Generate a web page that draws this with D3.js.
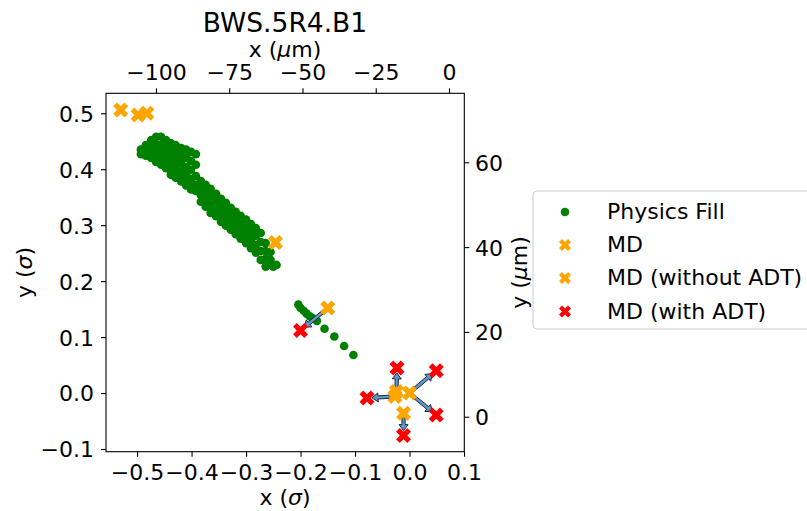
<!DOCTYPE html>
<html><head><meta charset="utf-8">
<script src="https://cdn.jsdelivr.net/npm/d3@7"></script>
<style>body{margin:0;background:#fff;} text{font-family:"DejaVu Sans",sans-serif;fill:#000;}</style>
</head><body><svg id="c" width="807" height="511"></svg>
<script>
// ---------- data ----------
const physicsX = [
-0.493,-0.493,
-0.484,-0.484,-0.484,
-0.474,-0.474,-0.474,-0.474,
-0.465,-0.465,-0.465,-0.465,-0.465,
-0.456,-0.456,-0.456,-0.456,-0.456,
-0.447,-0.447,-0.447,-0.447,-0.447,
-0.438,-0.438,-0.438,-0.438,-0.438,-0.438,
-0.429,-0.429,-0.429,-0.429,-0.429,-0.429,
-0.419,-0.419,-0.419,-0.419,-0.419,-0.419,
-0.410,-0.410,-0.410,-0.410,-0.410,-0.410,
-0.401,-0.401,-0.401,-0.401,-0.401,-0.401,
-0.392,-0.392,-0.392,-0.392,-0.392,
-0.383,-0.383,-0.383,-0.383,
-0.374,-0.374,-0.374,-0.374,
-0.365,-0.365,-0.365,-0.365,
-0.355,-0.355,-0.355,-0.355,
-0.346,-0.346,-0.346,-0.346,
-0.337,-0.337,-0.337,-0.337,
-0.328,-0.328,-0.328,-0.328,
-0.319,-0.319,-0.319,-0.319,
-0.310,-0.310,-0.310,-0.310,
-0.300,-0.300,-0.300,-0.300,
-0.291,-0.291,-0.291,-0.291,
-0.282,-0.282,-0.282,-0.282,
-0.273,-0.273,-0.273,-0.273,
-0.264,-0.264,-0.264,-0.264,
-0.255,-0.255,-0.255,
-0.250,-0.244,
-0.204,-0.200,-0.194,-0.189,-0.183,-0.178,-0.170,-0.156,-0.138,-0.120,-0.103
];
const physicsY = [
0.435,0.427,
0.443,0.433,0.424,
0.452,0.440,0.429,0.420,
0.458,0.445,0.433,0.420,0.413,
0.458,0.443,0.431,0.418,0.408,
0.452,0.440,0.426,0.413,0.402,
0.447,0.435,0.420,0.408,0.397,0.390,
0.443,0.429,0.415,0.402,0.390,0.385,
0.438,0.424,0.410,0.395,0.383,0.378,
0.435,0.420,0.404,0.390,0.376,0.371,
0.431,0.415,0.399,0.383,0.368,0.364,
0.427,0.408,0.388,0.372,0.361,
0.379,0.367,0.354,0.342,
0.372,0.358,0.345,0.333,
0.365,0.351,0.336,0.322,
0.356,0.342,0.327,0.316,
0.347,0.333,0.320,0.306,
0.340,0.326,0.313,0.299,
0.331,0.318,0.306,0.292,
0.324,0.310,0.297,0.284,
0.317,0.302,0.290,0.276,
0.310,0.295,0.281,0.268,
0.302,0.288,0.274,0.259,
0.295,0.281,0.265,0.251,
0.286,0.270,0.254,0.238,
0.268,0.254,0.240,0.226,
0.252,0.238,0.229,
0.226,0.229,
0.158,0.152,0.147,0.142,0.137,0.134,0.129,0.115,0.101,0.084,0.068
];
const mdX = [-0.530, -0.498, -0.482, -0.246];
const mdY = [0.506, 0.497, 0.500, 0.269];
const mdNoAdtX = [-0.150, -0.024, 0.000, -0.027, -0.011];
const mdNoAdtY = [0.152, 0.003, 0.000, -0.006, -0.036];
const mdAdtX = [-0.200, -0.023, 0.049, -0.078, 0.049, -0.011];
const mdAdtY = [0.112, 0.045, 0.040, -0.009, -0.039, -0.076];
const arrowFrom = [0, 1, 2, 3, 2, 4];   // index into MD (without ADT)
const arrowTo   = [0, 1, 2, 3, 4, 5];   // index into MD (with ADT)

const xTicks = [-0.5, -0.4, -0.3, -0.2, -0.1, 0.0, 0.1];
const yTicks = [-0.1, 0.0, 0.1, 0.2, 0.3, 0.4, 0.5];
const xTopTicks = [-100, -75, -50, -25, 0];
const yRightTicks = [0, 20, 40, 60];
const legendLabels = ["Physics Fill", "MD", "MD (without ADT)", "MD (with ADT)"];
const legendColors = ["green", "orange", "orange", "red"];
const legendShapes = ["dot", "x", "x", "x"];

// ---------- layout ----------
const L = 106, R = 464.3, T = 93.3, B = 451.7;
const svg = d3.select("#c");
const x = d3.scaleLinear().domain([-0.557, 0.1005]).range([L, R]);
const y = d3.scaleLinear().domain([-0.1048, 0.5357]).range([B, T]);
const xTop = d3.scaleLinear().domain([-117.06, 5.22]).range([L, R]);
const yRight = d3.scaleLinear().domain([-8.25, 76.27]).range([B, T]);

svg.append("rect").attr("width", 807).attr("height", 511).attr("fill", "#fff");

function xPath(cx, cy, s) {
  const v = [[-1,-2],[0,-1],[1,-2],[2,-1],[1,0],[2,1],[1,2],[0,1],[-1,2],[-2,1],[-1,0],[-2,-1]];
  return "M" + v.map(p => [cx + p[0] * s / 4, cy + p[1] * s / 4].join(",")).join("L") + "Z";
}

const plot = svg.append("g");
plot.selectAll("circle.pf").data(physicsX.map((d, i) => [d, physicsY[i]]))
  .enter().append("circle").attr("class", "pf")
  .attr("cx", d => x(d[0])).attr("cy", d => y(d[1])).attr("r", 4.3).attr("fill", "green");

// arrows
arrowFrom.forEach((fi, k) => {
  const ti = arrowTo[k];
  const sx = x(mdNoAdtX[fi]), sy = y(mdNoAdtY[fi]);
  const ex = x(mdAdtX[ti]), ey = y(mdAdtY[ti]);
  const dx = ex - sx, dy = ey - sy, len = Math.hypot(dx, dy);
  const ux = dx / len, uy = dy / len, nx = -uy, ny = ux;
  const tx = ex - ux * 5, ty = ey - uy * 5;
  const hl = 6, hw = 4.5, w = 1.6;
  const hx = tx - ux * hl, hy = ty - uy * hl;
  const pts = [[sx + nx * w, sy + ny * w], [hx + nx * w, hy + ny * w], [hx + nx * hw, hy + ny * hw], [tx, ty],
    [hx - nx * hw, hy - ny * hw], [hx - nx * w, hy - ny * w], [sx - nx * w, sy - ny * w]];
  plot.append("path").attr("d", "M" + pts.map(p => p.join(",")).join("L") + "Z")
    .attr("fill", "#6495c6").attr("stroke", "#1c2b3c").attr("stroke-width", 1).attr("stroke-linejoin", "miter");
});

mdX.forEach((d, i) => plot.append("path").attr("d", xPath(x(d), y(mdY[i]), 15)).attr("fill", "orange"));
mdNoAdtX.forEach((d, i) => plot.append("path").attr("d", xPath(x(d), y(mdNoAdtY[i]), 15)).attr("fill", "orange"));
mdAdtX.forEach((d, i) => plot.append("path").attr("d", xPath(x(d), y(mdAdtY[i]), 15)).attr("fill", "red"));

// frame
svg.append("rect").attr("x", L).attr("y", T).attr("width", R - L).attr("height", B - T)
  .attr("fill", "none").attr("stroke", "#000").attr("stroke-width", 1.1);

const fs = "22px";
function styleAxis(g) {
  g.select(".domain").remove();
  g.selectAll(".tick line").attr("stroke", "#000").attr("stroke-width", 1.1);
  g.selectAll("text").style("font-size", fs).style("font-family", "DejaVu Sans").attr("fill", "#000");
}
const gB = svg.append("g").attr("transform", `translate(0,${B})`)
  .call(d3.axisBottom(x).tickValues(xTicks).tickSize(5).tickFormat(d3.format(".1f")));
styleAxis(gB); gB.selectAll("text").attr("y", 28.3).attr("dy", null);

const gT = svg.append("g").attr("transform", `translate(0,${T})`)
  .call(d3.axisTop(xTop).tickValues(xTopTicks).tickSize(5).tickFormat(d3.format("d")));
styleAxis(gT); gT.selectAll("text").attr("y", -13.3).attr("dy", null);

const gL = svg.append("g").attr("transform", `translate(${L},0)`)
  .call(d3.axisLeft(y).tickValues(yTicks).tickSize(5).tickFormat(d3.format(".1f")));
styleAxis(gL); gL.selectAll("text").attr("x", -12).attr("dy", "0.36em");

const gR = svg.append("g").attr("transform", `translate(${R},0)`)
  .call(d3.axisRight(yRight).tickValues(yRightTicks).tickSize(5).tickFormat(d3.format("d")));
styleAxis(gR); gR.selectAll("text").attr("x", 10.7).attr("dy", "0.36em");

// labels (Greek letters in italic, as in math text)
function label(sel, pre, greek, post) {
  sel.append("tspan").text(pre);
  sel.append("tspan").style("font-style", "italic").text(greek);
  sel.append("tspan").text(post);
}
svg.append("text").attr("x", 285).attr("y", 32).attr("text-anchor", "middle").style("font-size", "26.5px").text("BWS.5R4.B1");
label(svg.append("text").attr("x", 285).attr("y", 57).attr("text-anchor", "middle").style("font-size", fs), "x (", "μ", "m)");
label(svg.append("text").attr("x", 285).attr("y", 505).attr("text-anchor", "middle").style("font-size", fs), "x (", "σ", ")");
label(svg.append("text").attr("transform", "translate(32,272.5) rotate(-90)").attr("text-anchor", "middle").style("font-size", fs), "y (", "σ", ")");
label(svg.append("text").attr("transform", "translate(527,272.5) rotate(-90)").attr("text-anchor", "middle").style("font-size", fs), "y (", "μ", "m)");

// legend
const lg = svg.append("g");
lg.append("rect").attr("x", 533).attr("y", 191).attr("width", 320).attr("height", 138).attr("rx", 4)
  .attr("fill", "#fff").attr("fill-opacity", 0.8).attr("stroke", "#cccccc").attr("stroke-width", 1);
const rowY = [212, 245, 278, 311.5];
legendLabels.forEach((lab, i) => {
  if (legendShapes[i] === "dot") lg.append("circle").attr("cx", 565).attr("cy", rowY[i]).attr("r", 4.3).attr("fill", legendColors[i]);
  else lg.append("path").attr("d", xPath(565, rowY[i], 12)).attr("fill", legendColors[i]);
  lg.append("text").attr("x", 607).attr("y", rowY[i] + 7).style("font-size", fs).text(lab);
});
</script></body></html>
